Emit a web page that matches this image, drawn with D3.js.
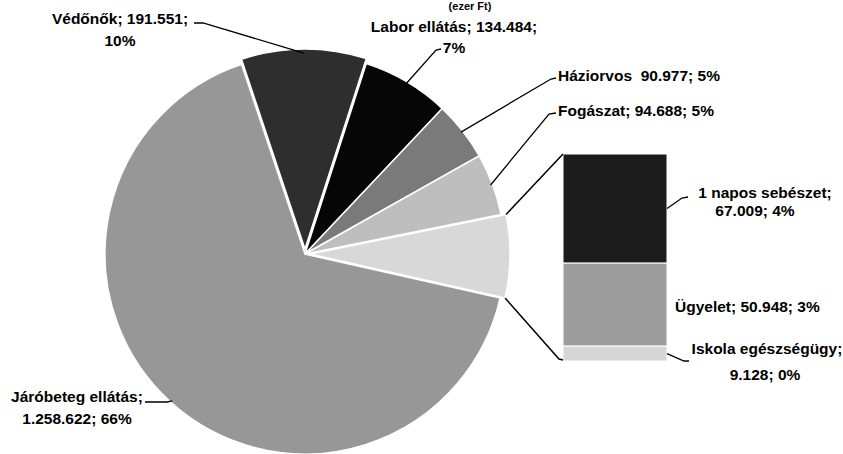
<!DOCTYPE html>
<html>
<head>
<meta charset="utf-8">
<script src="https://cdn.jsdelivr.net/npm/d3@7/dist/d3.min.js"></script>
<style>
  html, body { margin: 0; padding: 0; background: #fff; }
  svg { display: block; }
  text { font-family: "Liberation Sans", Arial, sans-serif; font-weight: bold; font-size: 15.5px; fill: #000; white-space: pre; }
</style>
</head>
<body>
<svg id="chart" width="843" height="454"></svg>
<script>
// ---- data ----
const pieCategories = ["Védőnők", "Labor ellátás", "Háziorvos", "Fogászat", "Egyéb", "Járóbeteg ellátás"];
const barCategories = ["1 napos sebészet", "Ügyelet", "Iskola egészségügy"];
const barValues = [67009, 50948, 9128];
const pieValues = [191551, 134484, 90977, 94688, d3.sum(barValues), 1258622];
const pieColors = ["#2e2e2e", "#060606", "#7a7a7a", "#bebebe", "#d8d8d8", "#979797"];
const barColors = ["#1c1c1c", "#9c9c9c", "#d6d6d6"];
const pieLabels = [
  ["Védőnők; 191.551;", "10%"],
  ["Labor ellátás; 134.484;", "7%"],
  ["Háziorvos  90.977; 5%"],
  ["Fogászat; 94.688; 5%"],
  null,
  ["Járóbeteg ellátás;", "1.258.622; 66%"]
];
const barLabels = [
  ["1 napos sebészet;", "67.009; 4%"],
  ["Ügyelet; 50.948; 3%"],
  ["Iskola egészségügy;", "9.128; 0%"]
];
const titleText = "(ezer Ft)";

// ---- layout ----
const svg = d3.select("#chart");
const cx = 305, cy = 254, R = 200;
const deg = Math.PI / 180;
const start = -18.5 * deg;
const explode = [5, 0, 0, 0, 5, 0];

svg.append("text").attr("x", 470).attr("y", 10).attr("text-anchor", "middle")
  .style("font-size", "11px").text(titleText);

const pie = d3.pie().sort(null).value(d => d).startAngle(start).endAngle(start + 2 * Math.PI);
const arcs = pie(pieValues);
const arc = d3.arc().innerRadius(0).outerRadius(R);

const g = svg.append("g").attr("transform", `translate(${cx},${cy})`);
function off(d, i) {
  const m = (d.startAngle + d.endAngle) / 2;
  return [Math.sin(m) * explode[i], -Math.cos(m) * explode[i]];
}
g.selectAll("path.slice").data(arcs).join("path")
  .attr("class", "slice")
  .attr("d", arc)
  .attr("transform", (d, i) => { const o = off(d, i); return `translate(${o[0]},${o[1]})`; })
  .attr("fill", (d, i) => pieColors[i])
  .attr("stroke", "#fff").attr("stroke-width", 1.5);

function arcPoint(angle, r, i, d) {
  const o = off(d, i);
  return [cx + Math.sin(angle) * r + o[0], cy - Math.cos(angle) * r + o[1]];
}

// ---- bar of pie ----
const barX0 = 563, barX1 = 667, barTop = 154, barBottom = 361;
const y = d3.scaleLinear().domain([0, d3.sum(barValues)]).range([barTop, barBottom]);
const stack = d3.cumsum([0].concat(barValues));
svg.selectAll("rect.bar").data(barValues).join("rect")
  .attr("class", "bar")
  .attr("x", barX0).attr("width", barX1 - barX0)
  .attr("y", (d, i) => y(stack[i]))
  .attr("height", (d, i) => y(stack[i + 1]) - y(stack[i]))
  .attr("fill", (d, i) => barColors[i])
  .attr("stroke", "#fff").attr("stroke-width", 1);

// connectors
const eg = arcs[4];
const pA = arcPoint(eg.startAngle, R, 4, eg);
const pB = arcPoint(eg.endAngle, R, 4, eg);
const line = d3.line();
svg.append("path").attr("d", line([pA, [barX0, barTop]])).attr("stroke", "#000").attr("stroke-width", 1.5).attr("fill", "none");
svg.append("path").attr("d", line([pB, [barX0 - 4, barBottom - 2], [barX0, barBottom - 1]])).attr("stroke", "#000").attr("stroke-width", 1.5).attr("fill", "none");

// ---- labels ----
function lbl(lines, specs) {
  lines.forEach((t, k) => {
    const s = specs[k];
    svg.append("text").attr("x", s[0]).attr("y", s[1]).attr("text-anchor", s[2]).attr("xml:space", "preserve").text(t);
  });
}
lbl(pieLabels[0], [[120, 24, "middle"], [120, 46, "middle"]]);
lbl(pieLabels[1], [[454, 32, "middle"], [454, 53, "middle"]]);
lbl(pieLabels[2], [[558, 81, "start"]]);
lbl(pieLabels[3], [[558, 116, "start"]]);
lbl(pieLabels[5], [[77, 402, "middle"], [77, 424, "middle"]]);
lbl(barLabels[0], [[765, 198, "middle"], [755, 216, "middle"]]);
lbl(barLabels[1], [[675, 312, "start"]]);
lbl(barLabels[2], [[767, 354, "middle"], [765, 380, "middle"]]);

// leader lines
function mid(d) { return (d.startAngle + d.endAngle) / 2; }
const leaders = [
  [[194, 23], [203, 23], arcPoint(mid(arcs[0]), R - 4, 0, arcs[0])],
  [[441, 49], [436, 50], arcPoint(mid(arcs[1]), R - 4, 1, arcs[1])],
  [[556, 78], [551, 79], arcPoint(mid(arcs[2]), R - 2, 2, arcs[2])],
  [[556, 113], [549, 114], arcPoint(mid(arcs[3]), R - 2, 3, arcs[3])],
  [[145, 402], [167, 402], arcPoint(mid(arcs[5]), R - 2, 5, arcs[5])],
  [[688, 197], [682, 198], [barX1, (y(stack[0]) + y(stack[1])) / 2]],
  [[689, 361], [684, 361], [barX1, (y(stack[2]) + y(stack[3])) / 2]]
];
leaders.forEach(pts => {
  svg.append("path").attr("d", line(pts)).attr("stroke", "#000").attr("stroke-width", 1.3).attr("fill", "none");
});
</script>
</body>
</html>
